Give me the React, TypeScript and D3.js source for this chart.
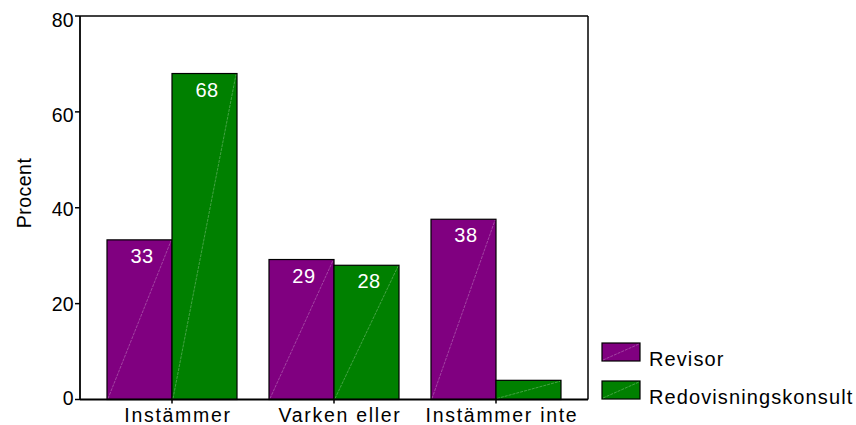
import React from "react";
import * as d3 from "d3";

const categories = ["Instämmer", "Varken eller", "Instämmer inte"];
const seriesNames = ["Revisor", "Redovisningskonsult"];
const revisor = [33.3, 29.2, 37.6];
const redovisning = [68, 28, 4];
const revisorLabels = ["33", "29", "38"];
const redovisningLabels = ["68", "28", ""];
const yTicks = [0, 20, 40, 60, 80];
const colors = ["#800080", "#008000"];

export default function App() {
  const W = 856, H = 425;
  const left = 80, right = 588, top = 16, bottom = 399.5;
  const font = "Liberation Sans, Arial, sans-serif";
  const y = d3.scaleLinear().domain([0, 80]).range([bottom, top]);
  const yLab = d3.scaleLinear().domain([0, 80]).range([398, 20]);
  const x = d3.scaleBand<string>().domain(categories).range([left, right]).paddingInner(0.1975).paddingOuter(0.1667);
  const x1 = d3.scaleBand<string>().domain(seriesNames).range([0, x.bandwidth()]);
  const series = [
    { name: seriesNames[0], values: revisor, labels: revisorLabels, color: colors[0] },
    { name: seriesNames[1], values: redovisning, labels: redovisningLabels, color: colors[1] },
  ];
  return (
    <svg width={W} height={H} style={{ position: "absolute", left: 0, top: 0 }} fontFamily={font}>
      <rect x={0} y={0} width={W} height={H} fill="white" />
      {series.map((s) =>
        categories.map((c, i) => {
          const bx = (x(c) as number) + (x1(s.name) as number);
          const bw = x1.bandwidth();
          const by = y(s.values[i]);
          const bh = bottom - by;
          return (
            <g key={s.name + c}>
              <rect x={bx} y={by} width={bw} height={bh} fill={s.color} stroke="black" strokeWidth={1.2} />
              <line x1={bx + 1} y1={bottom - 1} x2={bx + bw - 1} y2={by + 1} stroke="white" strokeOpacity={0.45} strokeWidth={0.6} strokeDasharray="3,1" />
              {s.labels[i] && (
                <text x={bx + bw / 2 + 2.5} y={by + 23} fill="white" fontSize={20} letterSpacing={0.5} textAnchor="middle">{s.labels[i]}</text>
              )}
            </g>
          );
        })
      )}
      {/* frame */}
      <line x1={left} y1={top} x2={right} y2={top} stroke="black" strokeWidth={1.3} />
      <line x1={right} y1={top} x2={right} y2={bottom} stroke="black" strokeWidth={1.5} />
      <line x1={left} y1={top} x2={left} y2={bottom} stroke="black" strokeWidth={1.8} />
      <line x1={left} y1={bottom} x2={right} y2={bottom} stroke="black" strokeWidth={1.8} />
      {yTicks.map((t) => (
        <g key={t}>
          <line x1={left - 5} x2={left} y1={y(t)} y2={y(t)} stroke="black" strokeWidth={1.5} />
          <text x={left - 6} y={yLab(t) + 7} fontSize={19.5} letterSpacing={0.3} textAnchor="end">{t}</text>
        </g>
      ))}
      {categories.map((c) => {
        const cx = (x(c) as number) + x.bandwidth() / 2;
        return (
          <g key={c}>
            <line x1={cx} x2={cx} y1={bottom} y2={bottom + 4} stroke="black" strokeWidth={1.5} />
            <text x={cx + 6} y={422} fontSize={19.5} letterSpacing={1.7} textAnchor="middle">{c}</text>
          </g>
        );
      })}
      <text transform={`translate(31,193) rotate(-90)`} fontSize={19.5} letterSpacing={0.5} textAnchor="middle">Procent</text>
      {series.map((s, i) => {
        const ly = 343 + i * 38;
        return (
          <g key={s.name}>
            <rect x={602} y={ly} width={38} height={18} fill={s.color} stroke="black" strokeWidth={1.2} />
            <line x1={603} y1={ly + 17} x2={639} y2={ly + 1} stroke="white" strokeOpacity={0.45} strokeWidth={0.6} strokeDasharray="3,1" />
            <text x={649} y={ly + 23} fontSize={20} letterSpacing={1.1}>{s.name}</text>
          </g>
        );
      })}
    </svg>
  );
}
